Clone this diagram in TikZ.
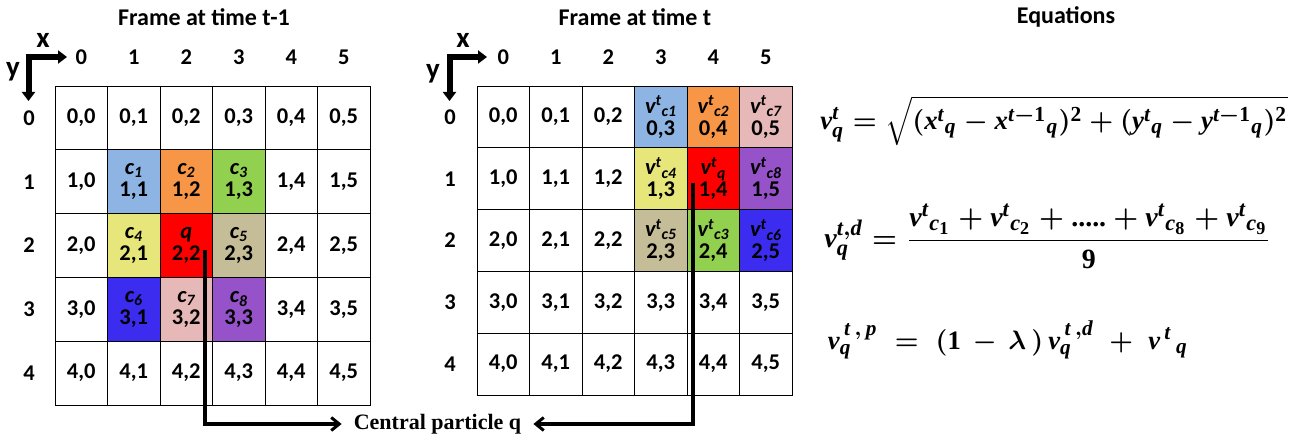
\documentclass[tikz,border=0pt]{standalone}
\usepackage{amsmath}
\usepackage{fontspec}
\usepackage{graphicx}
\setmainfont{Liberation Serif}
\newfontfamily\calfont{Carlito}
\usetikzlibrary{arrows.meta}
\DeclareMathSizes{10}{10}{8}{6.5}
\newcommand{\bi}[1]{\text{\bfseries\itshape #1}}
\newcommand{\bn}[1]{\text{\bfseries #1}}
\definecolor{cbl}{HTML}{8DB4E2}
\definecolor{cor}{HTML}{F79646}
\definecolor{cgr}{HTML}{92D050}
\definecolor{cye}{HTML}{E6E67A}
\definecolor{cre}{HTML}{FF0000}
\definecolor{cta}{HTML}{C4BD97}
\definecolor{cbu}{HTML}{3B2CF0}
\definecolor{cpk}{HTML}{E6B9B8}
\definecolor{cpu}{HTML}{9552C9}
\tikzset{
  cellL/.style={draw, line width=0.9pt, minimum width=52.5pt, minimum height=63.8pt, inner sep=0pt, align=center,
    font=\calfont\bfseries\fontsize{22.5}{22}\selectfont},
  cellR/.style={cellL, minimum height=61.8pt},
  lbl/.style={inner sep=0pt, font=\calfont\bfseries\fontsize{22.5}{22}\selectfont},
  axlbl/.style={inner sep=0pt, font=\calfont\bfseries\fontsize{29}{29}\selectfont},
  ttl/.style={inner sep=0pt, font=\calfont\bfseries\fontsize{24}{24}\selectfont},
  axisarrow/.style={line width=6pt, line join=miter, {Triangle[length=9pt,width=13pt]}-{Triangle[length=9pt,width=13pt]}},
  conn/.style={line width=3.3pt, -{Straight Barb[length=8pt,width=13pt,line width=3pt]}},
  eqn/.style={inner sep=0pt, font=\boldmath},
  cplbl/.style={inner ysep=0pt, inner xsep=12pt, font=\bfseries\fontsize{22}{22}\selectfont}
}
\begin{document}
\begin{tikzpicture}[x=1pt,y=-1pt]
\useasboundingbox (0,0) rectangle (1298,443);
% titles
\node[ttl] (t1) at (204,17) {Frame at time t-1};
\node[ttl] (t2) at (635,17) {Frame at time t};
\node[ttl] (t3) at (1066,17) {Equations};
% ---------- left grid ----------
\foreach \r in {0,...,4}{\foreach \c in {0,...,5}{
  \pgfmathtruncatemacro\isc{(\r>=1)&&(\r<=3)&&(\c>=1)&&(\c<=3)}
  \ifnum\isc=0
    \node[cellL] (L\r\c) at ({55+52.5*(\c+0.5)},{86+63.8*(\r+0.5)}) {\r,\c};
  \fi
}}
\foreach \r/\c/\col/\lab in {1/1/cbl/c\textsubscript{1},1/2/cor/c\textsubscript{2},1/3/cgr/c\textsubscript{3},
  2/1/cye/c\textsubscript{4},2/2/cre/q,2/3/cta/c\textsubscript{5},
  3/1/cbu/c\textsubscript{6},3/2/cpk/c\textsubscript{7},3/3/cpu/c\textsubscript{8}}{
  \node[cellL, fill=\col] (L\r\c) at ({55+52.5*(\c+0.5)},{86+63.8*(\r+0.5)}) {{\itshape\lab}\\\r,\c};
}
\foreach \c in {0,...,5}{\node[lbl] (LX\c) at ({55+52.5*(\c+0.5)},57) {\c};}
\foreach \r in {0,...,4}{\node[lbl] (LY\r) at (29,{86+63.8*(\r+0.5)}) {\r};}
% left axes
\coordinate (LAx) at (67,57);
\coordinate (LAc) at (28.5,57);
\coordinate (LAy) at (28.5,101);
\draw[axisarrow] (LAx) -- (LAc) -- (LAy);
\node[axlbl] (Lxl) at (43,40) {x};
\node[axlbl] (Lyl) at (13,72) {y};
% ---------- right grid ----------
\foreach \r in {0,...,4}{\foreach \c in {0,...,5}{
  \pgfmathtruncatemacro\isc{(\r<=2)&&(\c>=3)}
  \ifnum\isc=0
    \node[cellR] (R\r\c) at ({477+52.5*(\c+0.5)},{86+61.8*(\r+0.5)}) {\r,\c};
  \fi
}}
\foreach \r/\c/\col/\lab in {0/3/cbl/c1,0/4/cor/c2,0/5/cpk/c7,
  1/3/cye/c4,1/4/cre/q,1/5/cpu/c8,
  2/3/cta/c5,2/4/cgr/c3,2/5/cbu/c6}{
  \node[cellR, fill=\col] (R\r\c) at ({477+52.5*(\c+0.5)},{86+61.8*(\r+0.5)}) {{\itshape v\textsuperscript{t}\textsubscript{\lab}}\\\r,\c};
}
\foreach \c in {0,...,5}{\node[lbl] (RX\c) at ({477+52.5*(\c+0.5)},57) {\c};}
\foreach \r in {0,...,4}{\node[lbl] (RY\r) at (450,{86+61.8*(\r+0.5)}) {\r};}
\coordinate (RAx) at (487,57);
\coordinate (RAc) at (449.5,57);
\coordinate (RAy) at (449.5,101);
\draw[axisarrow] (RAx) -- (RAc) -- (RAy);
\node[axlbl] (Rxl) at (463,40) {x};
\node[axlbl] (Ryl) at (433,74) {y};
% ---------- central particle ----------
\node[cplbl] (cp) at (437.5,424) {Central particle q};
\coordinate (qa) at (205,250);
\coordinate (qb) at (693,183);
\draw[conn] (qa) |- (cp.west);
\draw[conn] (qb) |- (cp.east);
% ---------- equations ----------
\node[eqn] (e1) at (1054,121) {\resizebox{467pt}{!}{$\bi{v}^{\bi{t}}_{\bi{q}}=\sqrt{(\bi{x}^{\bi{t}}{}_{\bi{q}}-\bi{x}^{\bi{t}-\bn{1}}{}_{\bi{q}})^{\bn{2}}+(\bi{y}^{\bi{t}}{}_{\bi{q}}-\bi{y}^{\bi{t}-\bn{1}}{}_{\bi{q}})^{\bn{2}}}$}};
\node[eqn] (e2) at (1048,236) {\resizebox{447pt}{!}{$\displaystyle \bi{v}^{\bi{t},\bi{d}}_{\bi{q}}=\frac{\bi{v}^{\bi{t}}{}_{\bi{c}_{\bn{1}}}+\bi{v}^{\bi{t}}{}_{\bi{c}_{\bn{2}}}+\bn{.....}+\bi{v}^{\bi{t}}{}_{\bi{c}_{\bn{8}}}+\bi{v}^{\bi{t}}{}_{\bi{c}_{\bn{9}}}}{\bn{9}}$}};
\node[eqn] (e3) at (1008,340) {\resizebox{360pt}{!}{$\bi{v}^{\,\bi{t}\,,\,\bi{p}}_{\bi{q}}\;=\;(\bn{1}\,-\,\boldsymbol{\lambda}\,)\,\bi{v}^{\,\bi{t}\,,\bi{d}}_{\bi{q}}\;+\;\bi{v}^{\,\bi{t}}{}_{\,\bi{q}}$}};
\end{tikzpicture}
\end{document}
